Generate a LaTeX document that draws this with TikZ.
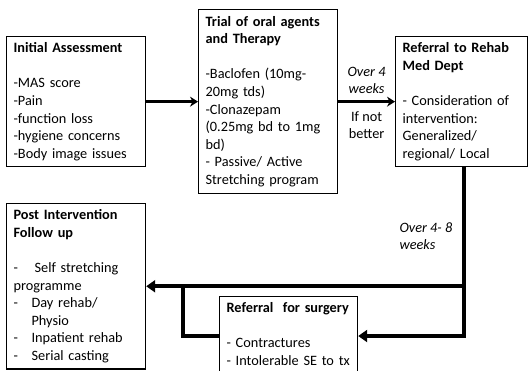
\documentclass[tikz,border=0pt]{standalone}
\usepackage{fontspec}
\setmainfont{Carlito}
\usetikzlibrary{arrows.meta}

\begin{document}
\begin{tikzpicture}[x=1pt, y=-1pt,
    box/.style={draw, line width=1.2pt, anchor=north west, align=left,
      inner xsep=7pt, inner ysep=6pt, font=\fontsize{14.3}{17.6}\selectfont},
    flow/.style={line width=2.5pt, -{Stealth[length=8pt,width=10pt]}},
    route/.style={line width=4pt, -{Triangle[length=9pt,width=12pt]}},
    link/.style={line width=4pt},
    note/.style={font=\fontsize{14.3}{17.6}\selectfont, align=center}]
      \useasboundingbox (0,0) rectangle (529,370);
      \clip (0,0) rectangle (529,370);

      \node[box, text width=125pt] (init) at (6,36)
        {\textbf{Initial Assessment}\\[17.6pt]
         -MAS score\\-Pain\\-function loss\\-hygiene concerns\\-Body image issues};
      \node[box, text width=125pt, minimum height=184pt] (trial) at (198,9)
        {\textbf{Trial of oral agents}\\\textbf{and Therapy}\\[17.6pt]
         -Baclofen (10mg-\\20mg tds)\\-Clonazepam\\(0.25mg bd to 1mg\\bd)\\
         - Passive/ Active\\Stretching program};
      \node[box, text width=118pt] (referral) at (395,36)
        {\textbf{Referral to Rehab}\\\textbf{Med Dept}\\[17.6pt]
         - Consideration of\\intervention:\\Generalized/\\regional/ Local};
      \node[box, text width=125pt] (post) at (6,203)
        {\textbf{Post Intervention}\\\textbf{Follow up}\\[17.6pt]
         \makebox[21pt][l]{-}Self stretching\\programme\\
         \makebox[18pt][l]{-}Day rehab/\\\hspace*{18pt}Physio\\
         \makebox[18pt][l]{-}Inpatient rehab\\\makebox[18pt][l]{-}Serial casting};
      \node[box, text width=124pt] (surgery) at (219,296)
        {\textbf{Referral~ for surgery}\\[17.6pt]
         - Contractures\\\mbox{- Intolerable SE to tx}};

      \draw[flow] (init.east) -- (init.east -| trial.west);
      \draw[flow] (trial.east |- referral.west) -- (referral.west)
        node[midway, above, note, yshift=3pt]{\itshape Over 4\\\itshape weeks}
        node[midway, below, note, yshift=-5pt]{If not\\better};

      \coordinate (knee) at (464,336);
      \path (post.east) ++(37,0) coordinate (fork);
      \draw[route] (knee |- referral.south) |- (surgery.east |- knee);
      \draw[route] (knee |- post.east) -- (post.east);
      \draw[link] (fork) |- (surgery.west |- knee);
      \node[note, anchor=west, align=left, font=\fontsize{14.3}{17.6}\selectfont\itshape] (span) at (396,236) {Over 4- 8\\weeks};
\end{tikzpicture}
\end{document}
